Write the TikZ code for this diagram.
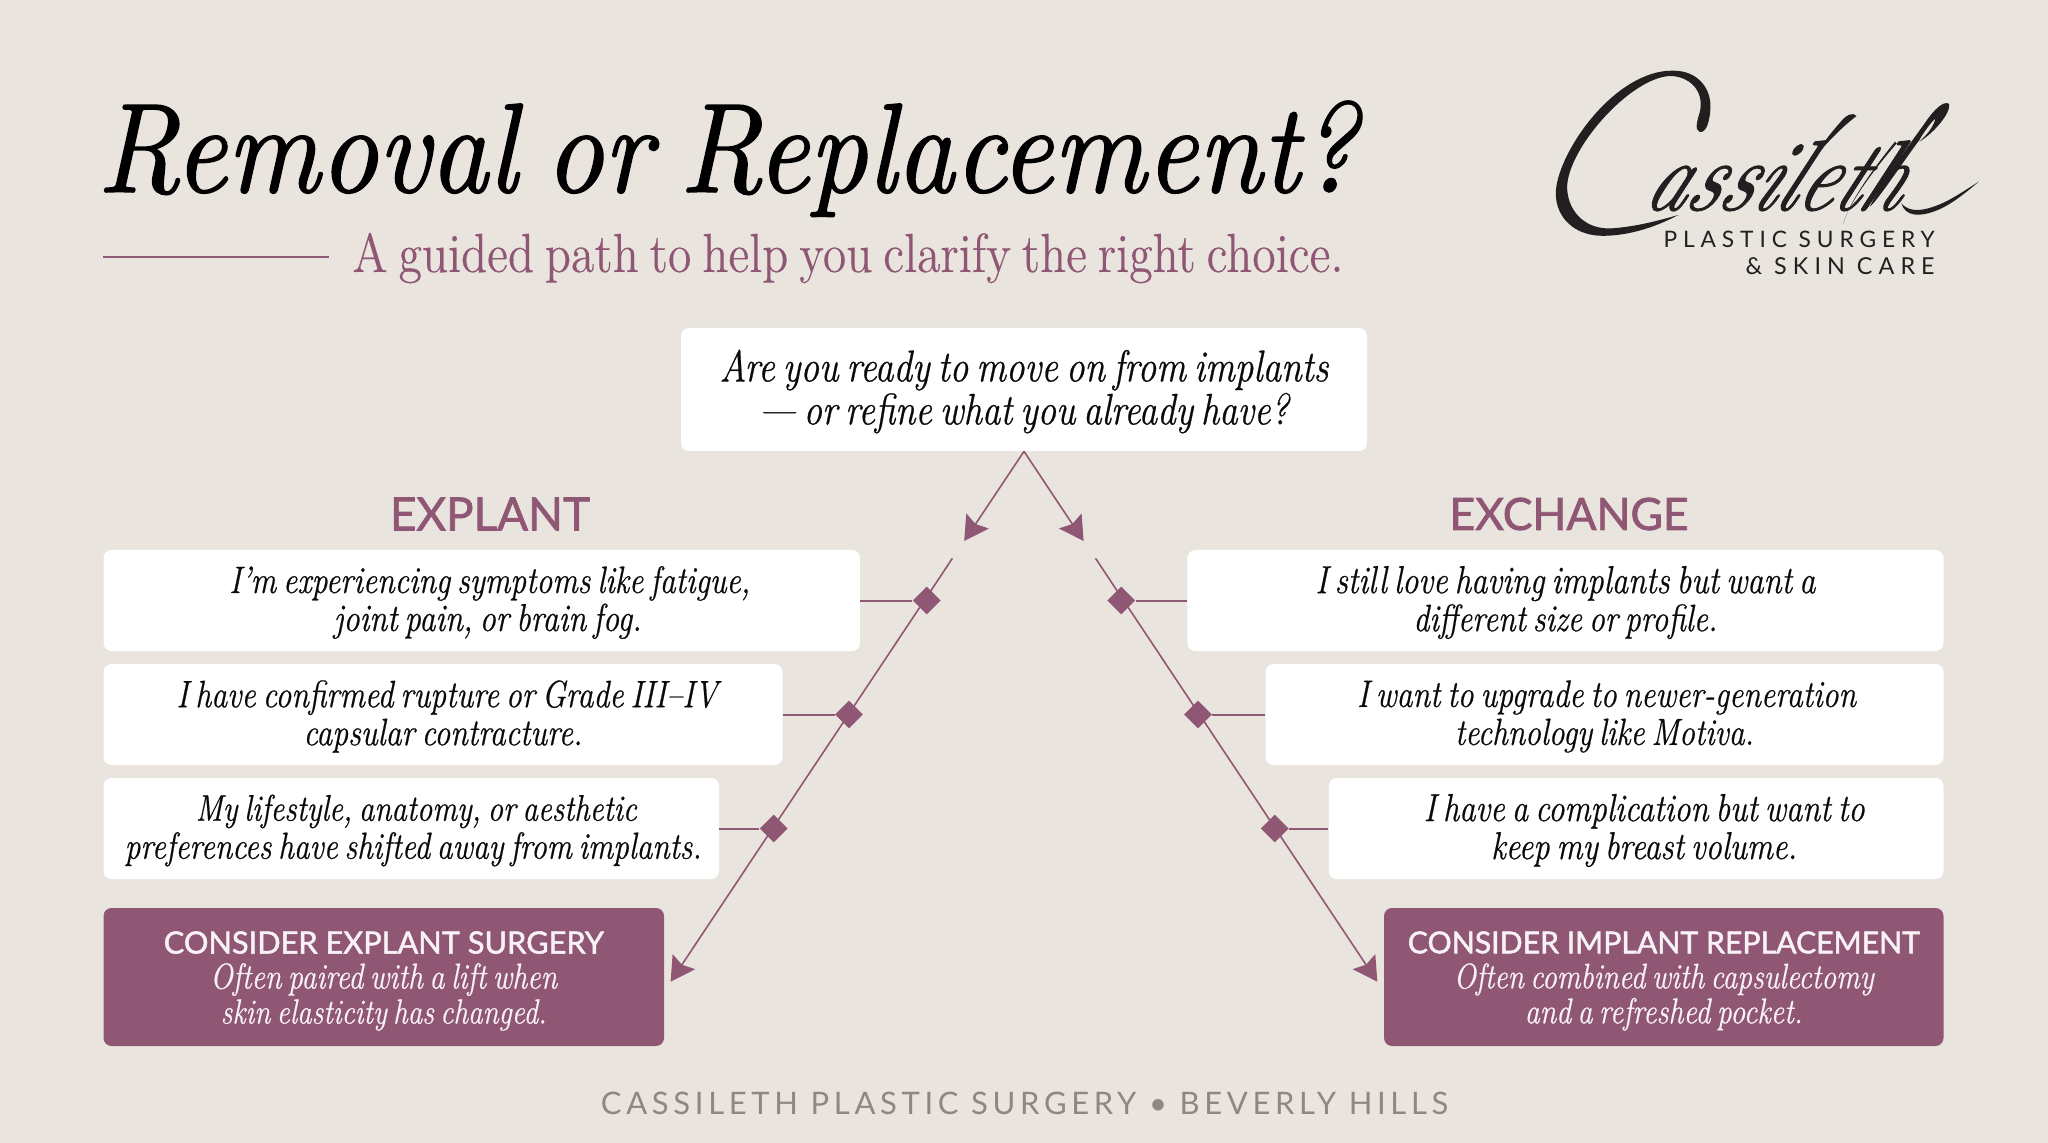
\documentclass[tikz,border=0pt]{standalone}
\usepackage{fontspec}
\usepackage{graphicx}
\usetikzlibrary{arrows.meta,shapes.geometric}
\setsansfont{Lato}
\newfontfamily\titleit[FakeBold=1.2,WordSpace=0.7]{lmroman10-italic.otf}
\newfontfamily\bodyit[FakeBold=0.65,WordSpace=0.62]{lmroman12-italic.otf}
\newfontfamily\subrm[FakeBold=0.25,WordSpace=0.7]{lmroman12-regular.otf}
\newfontfamily\sigit[FakeBold=1.0]{lmroman10-italic.otf}
\newfontfamily\spaced[LetterSpace=26]{Lato}
\newfontfamily\spacedf[LetterSpace=15]{Lato}
\newfontfamily\semib[FakeBold=1.6]{Lato}
\definecolor{paper}{HTML}{E9E5DE}
\definecolor{mauve}{HTML}{905775}
\definecolor{ink}{HTML}{0A0A0A}
\definecolor{logoink}{HTML}{231E20}
\definecolor{foot}{HTML}{8F8880}
\definecolor{softwhite}{HTML}{F8F2F5}
\newcommand\dropamt{1pt}
% one printed line, set to the width (in reference pixels) it has there
\newcommand\Ln[3][0]{\kern#1pt\raisebox{-\dropamt}[\height][\depth]{\scalebox{1}[1.2]{\resizebox{\dimexpr#2pt/2\relax}{!}{#3}}}\kern-#1pt}
\newcommand\Lh[3][0]{\kern#1pt\raisebox{-\dropamt}[\height][\depth]{\resizebox{\dimexpr#2pt/2\relax}{!}{#3}}\kern-#1pt}
\tikzset{
  cardbox/.style={fill=white,rounded corners=4pt,inner sep=0pt,text=ink,align=center,minimum height=50.5pt,font=\bodyit\fontsize{17}{19}\selectfont},
  resultbox/.style={fill=mauve,rounded corners=4pt,inner sep=0pt,text=softwhite,align=center,minimum height=69pt,font=\bodyit\fontsize{17}{17.5}\selectfont\def\dropamt{2pt}},
  flowline/.style={draw=mauve,line width=0.8pt},
  flowarrow/.style={flowline,-{Stealth[length=12pt,width=13.5pt,inset=1.8pt]}},
  stub/.style={draw=mauve,line width=1pt},
  knot/.style={diamond,fill=mauve,inner sep=0pt,minimum width=14pt,minimum height=14pt},
  heading/.style={text=mauve,font=\semib,inner sep=0pt},
  plain/.style={inner sep=0pt},
}
\begin{document}
\begin{tikzpicture}[x=0.5pt,y=-0.5pt]
\setlength{\lineskiplimit}{-20pt}
\useasboundingbox (0,0) rectangle (2048,1143);
\fill[paper] (0,0) rectangle (2048,1143);
% title block
\node[plain,anchor=base west,text=black] (title) at (97,192) {\scalebox{1}[1.12]{\resizebox{630pt}{!}{\titleit\fontsize{60}{60}\selectfont Removal or Replacement?}}};
\coordinate (ruleA) at (103,257);
\coordinate (ruleB) at (329,257);
\draw[mauve,line width=0.6pt] (ruleA) -- (ruleB);
\node[plain,anchor=base west,text=mauve] (subtitle) at (352,272) {\scalebox{1}[1.15]{\resizebox{495.5pt}{!}{\subrm\fontsize{24}{24}\selectfont A guided path to help you clarify the right choice.}}};
% logo
\node[plain,anchor=base west,text=logoink,xslant=0.45,xscale=0.8,transform shape] (sig) at (1640,210) {\sigit\fontsize{50}{50}\selectfont assileth};
\begin{scope}[shift={(1500,40)},x=0.17476pt,y=-0.16667pt]
\fill[logoink] (510,525) .. controls (420,575) and (340,590) .. (280,587)
  .. controls (200,580) and (155,520) .. (160,450)
  .. controls (170,330) and (330,90) .. (495,92)
  .. controls (570,92) and (605,150) .. (602,205)
  .. controls (600,245) and (590,278) .. (572,276)
  .. controls (555,270) and (565,240) .. (572,215)
  .. controls (585,150) and (540,108) .. (485,108)
  .. controls (370,115) and (190,330) .. (192,445)
  .. controls (195,520) and (250,570) .. (320,565)
  .. controls (390,560) and (460,540) .. (510,525) -- cycle;
% long strokes of l, t and h, and the closing flourish
\fill[logoink] (1020,228) .. controls (1010,215) and (990,225) .. (975,245)
  .. controls (920,310) and (860,400) .. (835,470)
  .. controls (845,420) and (930,300) .. (1020,228) -- cycle;
\fill[logoink] (1130,305) .. controls (1080,370) and (1000,480) .. (982,552)
  .. controls (995,490) and (1085,370) .. (1135,310) -- cycle;
\fill[logoink] (1285,192) .. controls (1270,180) and (1240,210) .. (1215,250)
  .. controls (1160,330) and (1090,430) .. (1058,500)
  .. controls (1075,490) and (1170,340) .. (1200,300)
  .. controls (1215,270) and (1250,225) .. (1245,240)
  .. controls (1235,270) and (1215,290) .. (1200,305)
  .. controls (1240,280) and (1290,220) .. (1285,192) -- cycle;
\fill[logoink] (1148,490) .. controls (1160,530) and (1200,530) .. (1240,515)
  .. controls (1290,497) and (1335,455) .. (1370,425)
  .. controls (1330,450) and (1280,490) .. (1225,505)
  .. controls (1190,515) and (1165,510) .. (1148,490) -- cycle;
\end{scope}
\node[plain,anchor=base east,text=logoink] (lg1) at (1935,248) {\resizebox{135.5pt}{!}{\spaced\fontsize{11}{11}\selectfont PLASTIC SURGERY}};
\node[plain,anchor=base east,text=logoink] (lg2) at (1935,275) {\resizebox{94.5pt}{!}{\spaced\fontsize{11}{11}\selectfont \& SKIN CARE}};
% question
\node[cardbox,minimum width=343pt,minimum height=61.5pt,font=\bodyit\fontsize{18}{21.5}\selectfont] (q) at (1024,389.5) {\Ln{609}{Are you ready to move on from implants}\\ \Ln{530}{— or refine what you already have?}};
% headings
\node[heading] (hl) at (490,514) {\resizebox{100pt}{!}{EXPLANT}};
\node[heading] (hr) at (1569,514) {\resizebox{119.5pt}{!}{EXCHANGE}};
% left cards
\node[cardbox,minimum width=378.25pt] (l1) at (481.75,600.5) {\Ln[4]{521}{I’m experiencing symptoms like fatigue,}\\ \Ln[3]{308}{joint pain, or brain fog.}};
\node[cardbox,minimum width=339.5pt] (l2) at (443,714.5) {\Ln[2]{541}{I have confirmed rupture or Grade III–IV}\\ \Ln{279}{capsular contracture.}};
\node[cardbox,minimum width=307.75pt] (l3) at (411.25,828.5) {\Ln[2.5]{441}{My lifestyle, anatomy, or aesthetic}\\ \Ln[1]{577}{preferences have shifted away from implants.}};
\node[resultbox,minimum width=280.25pt] (lr) at (383.75,977) {\Lh{440}{\semib CONSIDER EXPLANT SURGERY}\\ \Ln{347}{Often paired with a lift when}\\ \Ln{326}{skin elasticity has changed.}};
% right cards
\node[cardbox,minimum width=378.05pt] (r1) at (1565.45,600.5) {\Ln{500}{I still love having implants but want a}\\ \Ln{304}{different size or profile.}};
\node[cardbox,minimum width=339pt] (r2) at (1604.5,714.5) {\Ln[1]{499}{I want to upgrade to newer-generation}\\ \Ln{299}{technology like Motiva.}};
\node[cardbox,minimum width=307.35pt] (r3) at (1636.15,828.5) {\Ln[4]{441}{I have a complication but want to}\\ \Ln[4]{306}{keep my breast volume.}};
\node[resultbox,minimum width=279.75pt] (rr) at (1663.75,977) {\Lh{512}{\semib CONSIDER IMPLANT REPLACEMENT}\\ \Ln{420}{Often combined with capsulectomy}\\ \Ln{278}{and a refreshed pocket.}};
% connectors
\coordinate (tipL) at (964.2,541);
\coordinate (tipR) at (1083.6,541);
\coordinate (startL) at (952.4,558.3);
\coordinate (startR) at (1095.5,558.3);
\coordinate (endL) at (670.6,981.7);
\coordinate (endR) at (1377.3,981.7);
\draw[flowarrow] (q.south) -- (tipL);
\draw[flowarrow] (q.south) -- (tipR);
\draw[flowarrow] (startL) -- (endL);
\draw[flowarrow] (startR) -- (endR);
\node[knot] (dl1) at (926.7,600.5) {};
\node[knot] (dl2) at (849,714.5) {};
\node[knot] (dl3) at (773.7,828.5) {};
\node[knot] (dr1) at (1121.2,600.5) {};
\node[knot] (dr2) at (1198,714.5) {};
\node[knot] (dr3) at (1274.7,828.5) {};
\draw[stub] (l1.east) -- (dl1);
\draw[stub] (l2.east) -- (dl2);
\draw[stub] (l3.east) -- (dl3);
\draw[stub] (r1.west) -- (dr1);
\draw[stub] (r2.west) -- (dr2);
\draw[stub] (r3.west) -- (dr3);
% footer
\node[plain,anchor=base,text=foot] (footer) at (1024.5,1114.5) {\resizebox{423.5pt}{!}{\spacedf\fontsize{14.5}{14.5}\selectfont CASSILETH PLASTIC SURGERY \textbullet{} BEVERLY HILLS}};
\end{tikzpicture}
\end{document}
